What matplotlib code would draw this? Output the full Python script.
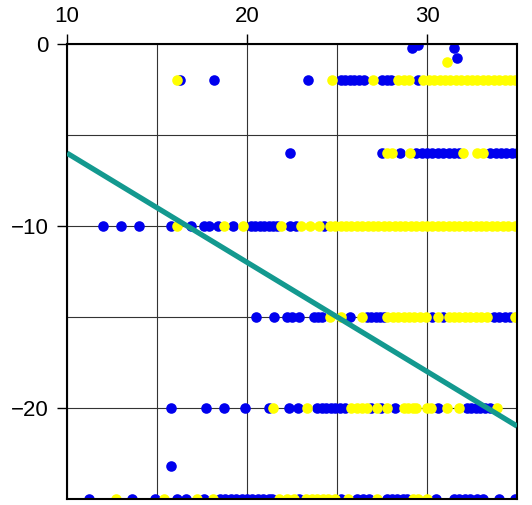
import numpy as np
import matplotlib.pyplot as plt

plt.rcParams['font.family'] = ['Liberation Sans', 'DejaVu Sans']

# scatter rows (x positions per row, y level per row)
row_levels = [-2, -6, -10, -15, -20, -25]

blue_rows = [
    [16.3, 18.15, 23.4, 25.2, 25.45, 25.7, 25.95, 26.2, 26.5, 27.5, 27.75, 28.0, 29.5],
    [22.4, 27.5, 28.5, 29.4, 29.7, 30.0, 30.3, 30.6, 30.9, 31.2, 31.5, 31.8,
     33.5, 33.8, 34.1, 34.4, 34.7, 35.0],
    [12.0, 13.0, 14.0, 15.8, 16.9, 17.6, 17.9, 18.4, 19.2, 20.2, 20.45, 20.7,
     20.95, 21.2, 21.45, 21.65, 22.4, 22.7, 24.3],
    [20.5, 21.5, 22.2, 22.5, 22.9, 23.7, 23.95, 24.15, 25.7, 26.65, 26.9, 27.15,
     27.4, 27.6, 30.26, 30.9, 33.7, 34.0, 34.3, 34.6, 35.0],
    [15.8, 17.7, 18.7, 19.9, 21.2, 22.35, 22.85, 23.9, 24.15, 24.4, 24.65, 24.9,
     25.15, 25.45, 26.9, 27.45, 28.2, 30.6, 32.2, 32.45, 32.7, 32.95, 33.2, 33.5],
    [11.2, 13.6, 14.9, 16.1, 16.6, 17.6, 18.5, 18.8, 19.1, 19.4, 19.7, 20.0,
     20.3, 20.6, 20.9, 21.2, 21.4, 22.9, 25.2, 26.1, 26.45, 26.8, 27.75, 28.05,
     28.35, 28.65, 28.9, 30.5, 31.5, 31.8, 32.1, 32.4, 32.75, 33.1, 34.0, 34.9],
]

yellow_rows = [
    [16.1, 24.7, 27.0, 28.4, 28.7, 29.0, 29.8, 30.1, 30.4, 30.7, 31.0, 31.3,
     31.6, 31.9, 32.2, 32.5, 32.8, 33.1, 33.4, 33.7, 34.0, 34.3, 34.6, 34.9],
    [27.8, 28.05, 29.05, 32.0, 32.8, 33.1],
    [16.1, 18.7, 19.75, 21.9, 23.0, 23.5, 24.0, 24.6, 24.9, 25.2, 25.5, 25.8,
     26.1, 26.4, 26.7, 27.0, 27.3, 27.6, 27.9, 28.2, 28.5, 28.8, 29.1, 29.4,
     29.7, 30.0, 30.3, 30.6, 30.9, 31.2, 31.5, 31.8, 32.1, 32.4, 32.7, 33.0,
     33.3, 33.6, 33.9, 34.2, 34.5, 34.9],
    [24.6, 25.2, 26.4, 27.8, 28.1, 28.4, 28.7, 29.0, 29.3, 29.6, 29.95, 30.6,
     31.2, 31.5, 31.8, 32.1, 32.4, 32.7, 33.0, 33.35, 34.9],
    [21.45, 23.35, 25.8, 26.1, 26.4, 26.65, 27.2, 27.75, 28.7, 28.95, 29.2,
     29.4, 30.0, 30.2, 31.1, 31.75, 33.9],
    [12.7, 15.4, 17.2, 18.1, 21.8, 22.2, 22.6, 23.3, 23.6, 23.9, 24.2, 24.5,
     24.9, 25.6, 27.2, 29.2, 29.5, 30.0],
]

# stray points off the rows
blue_extra_x = [29.15, 29.5, 31.5, 31.65, 15.8]
blue_extra_y = [-0.2, -0.05, -0.2, -0.75, -23.2]
yellow_extra_x = [31.1]
yellow_extra_y = [-1.0]

# fitted line end points
line_x = [10, 35]
line_y = [-6, -21]

blue_x, blue_y = list(blue_extra_x), list(blue_extra_y)
for lvl, xs in zip(row_levels, blue_rows):
    blue_x += xs
    blue_y += [lvl] * len(xs)
yellow_x, yellow_y = list(yellow_extra_x), list(yellow_extra_y)
for lvl, xs in zip(row_levels, yellow_rows):
    yellow_x += xs
    yellow_y += [lvl] * len(xs)

fig = plt.figure(figsize=(5.32, 5.05), dpi=100)
ax = fig.add_axes([0.126, 0.012, 0.846, 0.901])

ax.scatter(blue_x, blue_y, s=58, color='#0000ee', linewidths=0, zorder=2)
ax.scatter(yellow_x, yellow_y, s=58, color='#ffff00', linewidths=0, zorder=2.1)
ax.plot(line_x, line_y, color='#13998f', lw=3.8, solid_capstyle='butt', zorder=3)

ax.set_xlim(10, 35)
ax.set_ylim(-25, 0)

ax.set_xticks([10, 20, 30])
ax.set_xticks([15, 25, 35], minor=True)
ax.set_yticks([0, -10, -20])
ax.set_yticks([-5, -15, -25], minor=True)
ax.xaxis.tick_top()
ax.tick_params(axis='both', which='major', direction='out', length=7, width=1,
               labelsize=16)
ax.tick_params(axis='x', which='major', pad=5)
ax.tick_params(axis='y', which='major', pad=6)
ax.tick_params(axis='both', which='minor', length=0)
ax.tick_params(axis='x', top=True, bottom=False)
ax.tick_params(axis='y', left=True, right=False)
ax.grid(True, which='both', color='#333333', lw=0.8)
ax.set_axisbelow(True)

for sp in ax.spines.values():
    sp.set_linewidth(1.5)

fig.savefig('out.png', dpi=100)
